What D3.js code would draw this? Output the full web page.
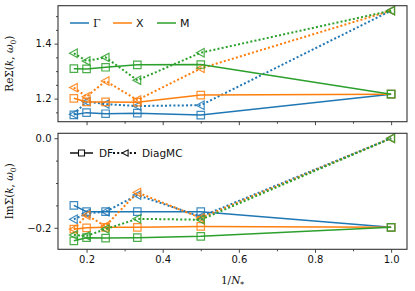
<!DOCTYPE html>
<html><head><meta charset="utf-8">
<script src="https://cdn.jsdelivr.net/npm/d3@7"></script>
<style>body{margin:0;background:#fff} svg{display:block}</style>
</head><body>
<svg id="c" width="415" height="291"></svg>
<script>
// ---- data ----
const invN = [1/6, 1/5, 1/4, 1/3, 1/2, 1];
const reGammaDF = [1.141, 1.149, 1.145, 1.147, 1.140, 1.216];
const reGammaMC = [1.143, 1.189, 1.180, 1.173, 1.176, 1.520];
const reXDF     = [1.201, 1.188, 1.188, 1.187, 1.213, 1.216];
const reXMC     = [1.240, 1.207, 1.264, 1.195, 1.310, 1.520];
const reMDF     = [1.309, 1.308, 1.314, 1.323, 1.324, 1.216];
const reMMC     = [1.365, 1.337, 1.350, 1.267, 1.367, 1.520];
const imGammaDF = [-0.150, -0.164, -0.164, -0.164, -0.164, -0.199];
const imGammaMC = [-0.181, -0.168, -0.164, -0.127, -0.175, 0.0];
const imXDF     = [-0.203, -0.200, -0.199, -0.199, -0.197, -0.199];
const imXMC     = [-0.203, -0.172, -0.196, -0.121, -0.178, 0.0];
const imMDF     = [-0.229, -0.222, -0.223, -0.222, -0.219, -0.199];
const imMMC     = [-0.216, -0.218, -0.203, -0.180, -0.182, 0.0];
const seriesNames = ["Γ", "X", "M"];
const colors = ["#1f77b4", "#ff7f0e", "#2ca02c"];
const xTicks = [0.2, 0.4, 0.6, 0.8, 1.0];
const xMinor = [0.3, 0.5, 0.7, 0.9];
const reTicks = [1.2, 1.4];
const reMinor = [1.15, 1.25, 1.3, 1.35, 1.45, 1.5];
const imTicks = [-0.2, 0.0];
const imMinor = [-0.15, -0.1, -0.05];

const svg = d3.select("#c");
const L = 58, R = 407;
const x = d3.scaleLinear().domain([0.125, 1.0417]).range([L, R]);
const yTop = d3.scaleLinear().domain([1.116, 1.538]).range([121.7, 5.7]);
const yBot = d3.scaleLinear().domain([-0.248, 0.011]).range([249.3, 133.3]);

const sq = d3.symbol().type(d3.symbolSquare).size(56);
const sqSmall = d3.symbol().type(d3.symbolSquare).size(36);
const triLeft = "M-4.4,0L3.4,-4.2L3.4,4.2Z";
const triSmall = "M-3.4,0L2.6,-3.2L2.6,3.2Z";

function panel(y, data, ticks, minor, showX, label) {
  const g = svg.append("g");
  const [y0, y1] = y.range();
  g.append("g").attr("transform", `translate(0,${y0})`)
    .call(d3.axisBottom(x).tickValues(xTicks).tickSize(3.5).tickPadding(3)
      .tickFormat(showX ? d3.format(".1f") : () => ""));
  g.append("g").attr("transform", `translate(0,${y0})`)
    .call(d3.axisBottom(x).tickValues(xMinor).tickSize(2).tickFormat(() => ""));
  g.append("g").attr("transform", `translate(${L},0)`)
    .call(d3.axisLeft(y).tickValues(ticks).tickSize(3.5).tickPadding(3).tickFormat(d3.format(".1f")));
  g.append("g").attr("transform", `translate(${L},0)`)
    .call(d3.axisLeft(y).tickValues(minor).tickSize(2).tickFormat(() => ""));
  g.selectAll(".domain").remove();
  g.selectAll(".tick line").attr("stroke", "#333").attr("stroke-width", 0.9);
  g.selectAll(".tick text").attr("font-family", "DejaVu Sans").attr("font-size", 10).attr("fill", "#111");
  const line = d3.line().x((d, i) => x(invN[i])).y(d => y(d));
  const plot = g.append("g");
  data.forEach((pair, k) => {
    const c = colors[k];
    const [df, mc] = pair;
    plot.append("path").attr("d", line(df)).attr("fill", "none").attr("stroke", c).attr("stroke-width", 1.5);
    plot.selectAll(null).data(df).enter().append("path")
      .attr("d", sq).attr("transform", (d, i) => `translate(${x(invN[i])},${y(d)})`)
      .attr("fill", "none").attr("stroke", c).attr("stroke-width", 1.2).attr("opacity", 0.85);
    plot.append("path").attr("d", line(mc)).attr("fill", "none").attr("stroke", c).attr("stroke-width", 2)
      .attr("stroke-dasharray", "2,2.2");
    plot.selectAll(null).data(mc).enter().append("path")
      .attr("d", triLeft).attr("transform", (d, i) => `translate(${x(invN[i])},${y(d)})`)
      .attr("fill", "none").attr("stroke", c).attr("stroke-width", 1.2).attr("opacity", 0.85);
  });
  g.append("rect").attr("x", L).attr("y", y1).attr("width", R - L).attr("height", y0 - y1)
    .attr("fill", "none").attr("stroke", "#333").attr("stroke-width", 1.1);
  const cy = (y0 + y1) / 2;
  const t = g.append("text").attr("transform", `translate(13,${cy}) rotate(-90)`)
    .attr("text-anchor", "middle").attr("font-family", "DejaVu Serif").attr("font-size", 10.5).attr("fill", "#111");
  t.append("tspan").text(label + "Σ(");
  t.append("tspan").attr("font-style", "italic").text("k");
  t.append("tspan").text(", ");
  t.append("tspan").attr("font-style", "italic").text("ω");
  t.append("tspan").attr("font-size", 7.5).attr("dy", 2.5).text("0");
  t.append("tspan").attr("dy", -2.5).text(")");
  return g;
}

panel(yTop, [[reGammaDF, reGammaMC], [reXDF, reXMC], [reMDF, reMMC]], reTicks, reMinor, false, "Re");
panel(yBot, [[imGammaDF, imGammaMC], [imXDF, imXMC], [imMDF, imMMC]], imTicks, imMinor, true, "Im");

const xl = svg.append("text").attr("x", (L + R) / 2).attr("y", 284).attr("text-anchor", "middle")
  .attr("font-family", "DejaVu Serif").attr("font-size", 10.5).attr("fill", "#111");
xl.append("tspan").text("1/");
xl.append("tspan").attr("font-style", "italic").text("N");
xl.append("tspan").attr("font-size", 7.5).attr("dy", 2.5).text("*");

const lg = svg.append("g");
const legX = [70, 113, 157];
seriesNames.forEach((n, k) => {
  lg.append("line").attr("x1", legX[k]).attr("x2", legX[k] + 19).attr("y1", 23).attr("y2", 23)
    .attr("stroke", colors[k]).attr("stroke-width", 1.5);
  lg.append("text").attr("x", legX[k] + 23).attr("y", 27).text(n)
    .attr("font-family", k === 0 ? "DejaVu Serif" : "DejaVu Sans").attr("font-size", 11).attr("fill", "#111");
});
const lb = svg.append("g");
lb.append("line").attr("x1", 70).attr("x2", 93).attr("y1", 153).attr("y2", 153).attr("stroke", "#111").attr("stroke-width", 1.5);
lb.append("path").attr("d", sqSmall).attr("transform", "translate(81.5,153)").attr("fill", "#fff").attr("stroke", "#111").attr("stroke-width", 1.1);
lb.append("text").attr("x", 99).attr("y", 157).text("DF").attr("font-family", "DejaVu Sans").attr("font-size", 10.5).attr("fill", "#111");
lb.append("line").attr("x1", 113).attr("x2", 138).attr("y1", 153).attr("y2", 153).attr("stroke", "#111").attr("stroke-width", 2).attr("stroke-dasharray", "2,2.2");
lb.append("path").attr("d", triSmall).attr("transform", "translate(125.5,153)").attr("fill", "#fff").attr("stroke", "#111").attr("stroke-width", 1.1);
lb.append("text").attr("x", 142).attr("y", 157).text("DiagMC").attr("font-family", "DejaVu Sans").attr("font-size", 10.5).attr("fill", "#111");
</script>
</body></html>
